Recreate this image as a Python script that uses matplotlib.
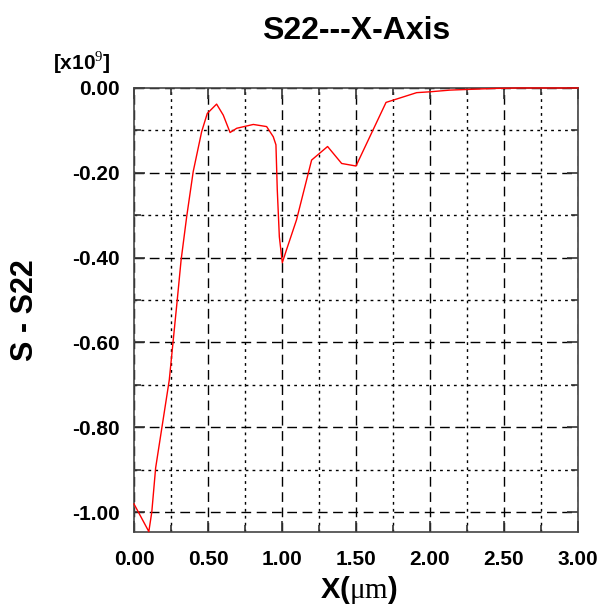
import numpy as np
import matplotlib.pyplot as plt
from matplotlib.ticker import MultipleLocator

plt.rcParams['font.family'] = ['Liberation Sans', 'DejaVu Sans']
plt.rcParams['mathtext.fontset'] = 'custom'
plt.rcParams['mathtext.rm'] = 'Liberation Serif'

# values (y in units of 1e9)
x_um = [0.0, 0.10, 0.12, 0.146, 0.238, 0.292, 0.318, 0.356, 0.40, 0.457, 0.495,
        0.558, 0.603, 0.649, 0.694, 0.806, 0.896, 0.941, 0.959, 0.968, 0.982,
        1.002, 1.03, 1.098, 1.20, 1.308, 1.403, 1.50, 1.703, 1.91, 2.0, 2.135,
        2.44, 2.6, 3.0]
s22 = [-0.981, -1.046, -1.0, -0.896, -0.689, -0.50, -0.406, -0.303, -0.197,
       -0.103, -0.06, -0.038, -0.064, -0.105, -0.095, -0.086, -0.091, -0.115,
       -0.134, -0.24, -0.351, -0.412, -0.382, -0.311, -0.17, -0.138, -0.178,
       -0.184, -0.034, -0.011, -0.009, -0.005, -0.001, 0.0, 0.0]

yticks = [0.0, -0.2, -0.4, -0.6, -0.8, -1.0]
xticks = [0.0, 0.5, 1.0, 1.5, 2.0, 2.5, 3.0]

fig = plt.figure(figsize=(6.04, 6.11), dpi=100)
ax = fig.add_axes([0.2219, 0.1293, 0.735, 0.7267])

ax.plot(x_um, s22, color='red', lw=1.0, zorder=3, clip_on=False)

ax.set_xlim(0, 3.0)
ax.set_ylim(-1.047, 0.0)
ax.set_xticks(xticks)
ax.set_yticks(yticks)
ax.set_xticklabels(['%.2f' % v for v in xticks])
ax.set_yticklabels(['%.2f' % v if v != 0 else '0.00' for v in yticks])
ax.xaxis.set_minor_locator(MultipleLocator(0.25))
ax.yaxis.set_minor_locator(MultipleLocator(0.1))

ax.grid(which='major', color='black', linestyle=(0, (7, 4)), lw=1.0)
ax.grid(which='minor', color='black', linestyle=(0, (2, 3)), lw=1.0)
ax.set_axisbelow(True)

ax.tick_params(which='both', direction='in', top=True, right=True,
               width=1.2, color='#333333')
ax.tick_params(which='major', length=8, labelsize=15)
ax.tick_params(axis='y', pad=10)
ax.tick_params(axis='x', pad=13)
ax.tick_params(which='minor', length=5)
for lbl in ax.get_xticklabels() + ax.get_yticklabels():
    lbl.set_fontweight('bold')
for sp in ax.spines.values():
    sp.set_color('#444444')
    sp.set_linewidth(1.2)

fig.text(0.589, 0.936, 'S22---X-Axis', fontsize=23, fontweight='bold',
         ha='center', va='baseline')
fig.text(0.041, 0.4926, 'S - S22', fontsize=22, fontweight='bold',
         rotation=90, ha='center', va='center')
fig.text(0.594, 0.034, r'X($\mathrm{\mu m}$)', fontsize=21, fontweight='bold',
         ha='center', va='center')
fig.text(0.088, 0.8854, r'[x10$^{9}$]', fontsize=15, fontweight='bold',
         va='baseline')

fig.savefig('out.png', dpi=100)
